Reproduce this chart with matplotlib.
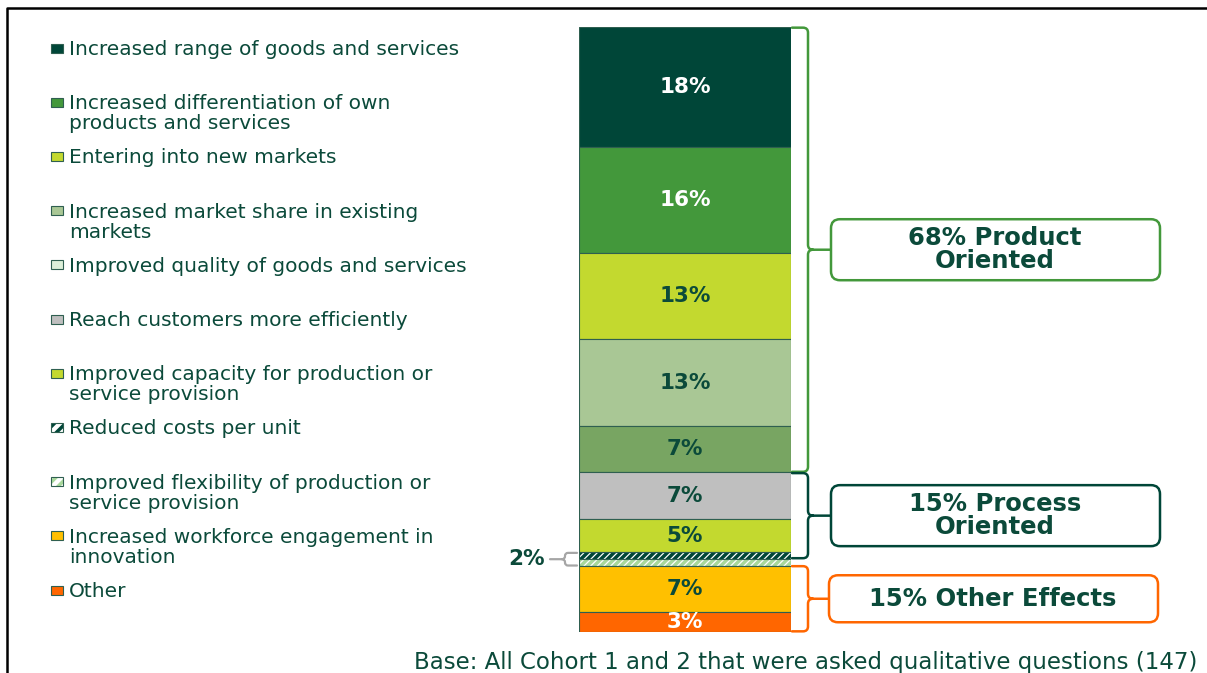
import numpy as np
import matplotlib
matplotlib.use("Agg")
import matplotlib.pyplot as plt
from matplotlib import transforms
from matplotlib.patches import Rectangle, FancyBboxPatch, PathPatch
from matplotlib.path import Path

plt.rcParams['font.family'] = ['DejaVu Sans']
plt.rcParams['hatch.linewidth'] = 2.5

# effects of the programme, share of respondents (%)
categories = [
    "Increased range of goods and services",
    "Increased differentiation of own\nproducts and services",
    "Entering into new markets",
    "Increased market share in existing\nmarkets",
    "Improved quality of goods and services",
    "Reach customers more efficiently",
    "Improved capacity for production or\nservice provision",
    "Reduced costs per unit",
    "Improved flexibility of production or\nservice provision",
    "Increased workforce engagement in\ninnovation",
    "Other",
]
shares = [18, 16, 13, 13, 7, 7, 5, 1, 1, 7, 3]
bar_labels = ["18%", "16%", "13%", "13%", "7%", "7%", "5%", "", "", "7%", "3%"]
bar_colors = ["#004638", "#43983B", "#C3D92F", "#A9C795", "#78A562", "#BFBFBF",
              "#C3D92F", "white", "white", "#FFC000", "#FF6600"]
legend_colors = ["#004638", "#43983B", "#C3D92F", "#A9C795", "#DDEFD9", "#BFBFBF",
                 "#C3D92F", "white", "white", "#FFC000", "#FF6600"]
hatch_colors = [None] * 7 + ["#004638", "#A8D89C", None, None]
label_colors = ["white", "white"] + ["#0B4A3A"] * 8 + ["white"]

# groups: (text, first index, end index, colour)
groups = [
    ("68% Product\nOriented", 0, 5, "#43983B"),
    ("15% Process\nOriented", 5, 8, "#004638"),
    ("15% Other Effects", 9, 11, "#FF6600"),
]
small_note = ("2%", 7, 9)
base_note = "Base: All Cohort 1 and 2 that were asked qualitative questions (147)"

txt = "#0B4A3A"
W, H = 1207, 673
fig = plt.figure(figsize=(W / 100, H / 100), dpi=100)

# overlay in pixel units for legend, braces and boxes
ov = fig.add_axes([0, 0, 1, 1])
ov.set_xlim(0, W)
ov.set_ylim(H, 0)
ov.axis('off')

ax = fig.add_axes([579 / W, (H - 632) / H, 212 / W, 605 / H])
ax.set_xlim(-0.5, 0.5)
ax.set_ylim(sum(shares), 0)
ax.axis('off')

bottoms = np.concatenate([[0], np.cumsum(shares)[:-1]])
for i, (v, b) in enumerate(zip(shares, bottoms)):
    if hatch_colors[i]:
        ax.bar(0, v, bottom=b, width=1, color="white", edgecolor=hatch_colors[i],
               hatch="/////", linewidth=0)
        ax.bar(0, v, bottom=b, width=1, fill=False, edgecolor="#2F5F50", linewidth=0.8)
    else:
        ax.bar(0, v, bottom=b, width=1, color=bar_colors[i], edgecolor="#2F5F50",
               linewidth=0.8)
    if bar_labels[i]:
        ax.text(0, b + v / 2, bar_labels[i], ha='center', va='center',
                fontsize=15.5, fontweight='bold', color=label_colors[i])

# legend, one text per line so the first line sits next to the swatch
for i, (lab, c) in enumerate(zip(categories, legend_colors)):
    yc = 48 + 54.2 * i
    if hatch_colors[i]:
        ov.add_patch(Rectangle((51, yc - 4.5), 12, 9, facecolor="white",
                               edgecolor=hatch_colors[i], hatch="///", linewidth=0))
        ov.add_patch(Rectangle((51, yc - 4.5), 12, 9, fill=False,
                               edgecolor="#2F5F50", linewidth=0.8))
    else:
        ov.add_patch(Rectangle((51, yc - 4.5), 12, 9, facecolor=c,
                               edgecolor="#2F5F50", linewidth=0.8))
    for k, line in enumerate(lab.split("\n")):
        ov.text(69, yc + 7 + 20 * k, line, ha='left', va='baseline',
                fontsize=14.5, color=txt)


def to_px(v):
    return ov.transData.inverted().transform(ax.transData.transform((0, v)))[1]


def brace(v0, v1, x_bar, x_v, x_tip, color, lw=1.8, r=5):
    # bracket with rounded corners, drawn in pixel units
    y0, y1 = to_px(v0), to_px(v1)
    ym = (y0 + y1) / 2
    s = np.sign(x_v - x_bar)
    verts = [(x_bar, y0), (x_v - s * r, y0), (x_v, y0), (x_v, y0 + r),
             (x_v, ym - r), (x_v, ym), (x_v + s * r, ym), (x_tip, ym),
             (x_v + s * r, ym), (x_v, ym), (x_v, ym + r),
             (x_v, y1 - r), (x_v, y1), (x_v - s * r, y1), (x_bar, y1)]
    codes = [Path.MOVETO, Path.LINETO, Path.CURVE3, Path.CURVE3,
             Path.LINETO, Path.CURVE3, Path.CURVE3, Path.LINETO,
             Path.MOVETO, Path.CURVE3, Path.CURVE3,
             Path.LINETO, Path.CURVE3, Path.CURVE3, Path.LINETO]
    ov.add_patch(PathPatch(Path(verts, codes), fill=False, edgecolor=color, lw=lw,
                           capstyle='round', joinstyle='round'))
    return ym


cum = np.concatenate([[0], np.cumsum(shares)])
box_h = [61, 61, 47]
box_x = [831, 831, 829]
for (label, i0, i1, color), bh, bx in zip(groups, box_h, box_x):
    yc = brace(cum[i0] + 0.1, cum[i1] - 0.1, 792, 808, bx, color)
    ov.add_patch(FancyBboxPatch((bx, yc - bh / 2), 329, bh,
                                boxstyle="round,pad=0,rounding_size=9",
                                facecolor="white", edgecolor=color, lw=1.8))
    ov.text(bx + 164, yc, label, ha='center', va='center', fontsize=17.5,
            fontweight='bold', color=txt, linespacing=0.95)

# small bracket for the two thin hatched segments
lab2, j0, j1 = small_note
ym2 = brace(cum[j0] + 0.1, cum[j1], 577, 565, 550, "#A6A6A6", lw=1.6, r=3)
ov.text(545, ym2, lab2, ha='right', va='center', fontsize=15.5,
        fontweight='bold', color=txt)

ov.text(1197, 662, base_note, ha='right', va='center', fontsize=16.5, color=txt)

# outer frame
ov.plot([7, 7, W], [H, 8, 8], color="black", lw=1.8, clip_on=False)

fig.savefig("out.png", dpi=100)
